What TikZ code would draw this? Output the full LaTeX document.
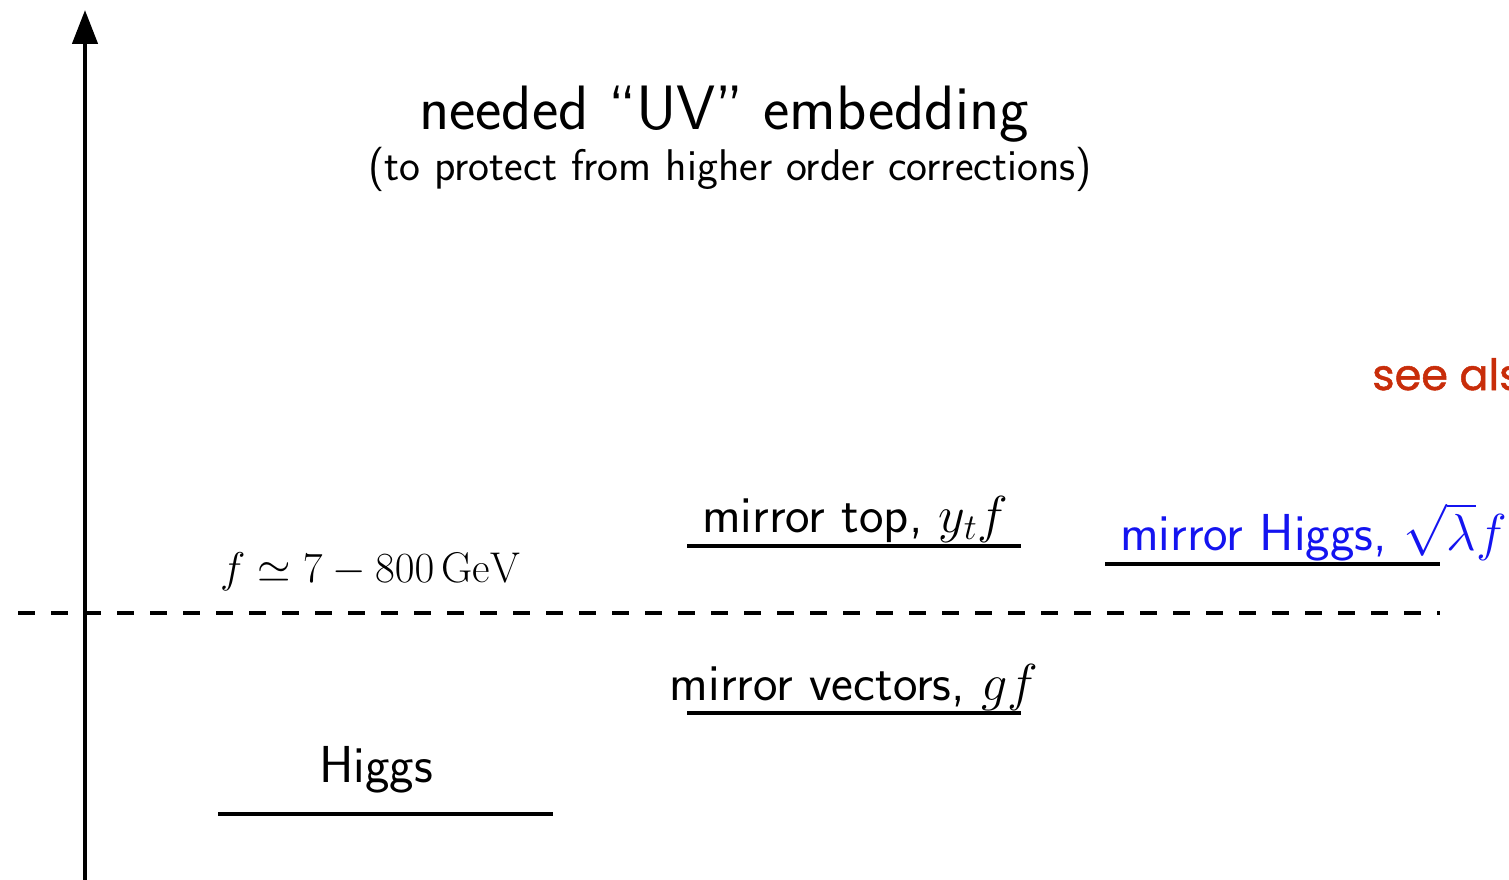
\documentclass[tikz,border=0pt]{standalone}
\usepackage{fix-cm}
\usepackage{fontspec}
\newfontfamily\geofont[FakeBold=1.2]{Poppins}
\usetikzlibrary{arrows.meta}
\definecolor{seered}{RGB}{200,45,10}
\definecolor{mhblue}{RGB}{20,20,240}
\tikzset{
  level/.style={line width=4.5pt},
  lab/.style={inner sep=0pt, anchor=base, font=\sffamily\fontsize{52}{56}\selectfont},
}
\begin{document}
\begin{tikzpicture}[x=1pt,y=-1pt]
\useasboundingbox (0,0) rectangle (1509,880);
\clip (0,0) rectangle (1509,880);
% energy axis
\coordinate (axb) at (85,880);
\coordinate (axt) at (85,10);
\draw[line width=4.5pt,-{Triangle[length=34pt,width=25pt]}] (axb) -- (axt);
% scale f
\coordinate (dl) at (18,613);
\coordinate (dr) at (1440,613);
\draw[line width=4.5pt, dash pattern=on 17pt off 16pt] (dl) -- (dr);
\node[inner sep=0pt, anchor=base west, font=\fontsize{43}{46}\selectfont] (flab) at (220,582) {$f\simeq 7-800\,\mathrm{GeV}$};
% title
\node[inner sep=0pt, anchor=base, font=\sffamily\fontsize{62.7}{66}\selectfont] (title) at (724,130) {needed ``UV'' embedding};
\node[inner sep=0pt, anchor=base, font=\sffamily\fontsize{44.4}{48}\selectfont] (sub) at (730,180) {(to protect from higher order corrections)};
% levels
\coordinate (h1) at (218,814); \coordinate (h2) at (553,814);
\draw[level] (h1) -- (h2);
\node[lab] (higgs) at (376,782) {Higgs};
\coordinate (v1) at (687,713); \coordinate (v2) at (1021,713);
\draw[level] (v1) -- (v2);
\node[lab] (vec) at (854,700) {mirror vectors, $g f$};
\coordinate (t1) at (687,546); \coordinate (t2) at (1021,546);
\draw[level] (t1) -- (t2);
\node[lab] (top) at (855,532) {mirror top, $y_t f$};
\coordinate (m1) at (1105,564); \coordinate (m2) at (1440,564);
\draw[level] (m1) -- (m2);
\node[lab, anchor=base west, text=mhblue] (mh) at (1120,550) {mirror Higgs, $\sqrt{\lambda}f$};
% side note, running off the right edge
\node[inner sep=0pt, anchor=base west, text=seered, font=\geofont\fontsize{43}{46}\selectfont] (see) at (1372,390) {see also};
\end{tikzpicture}
\end{document}
